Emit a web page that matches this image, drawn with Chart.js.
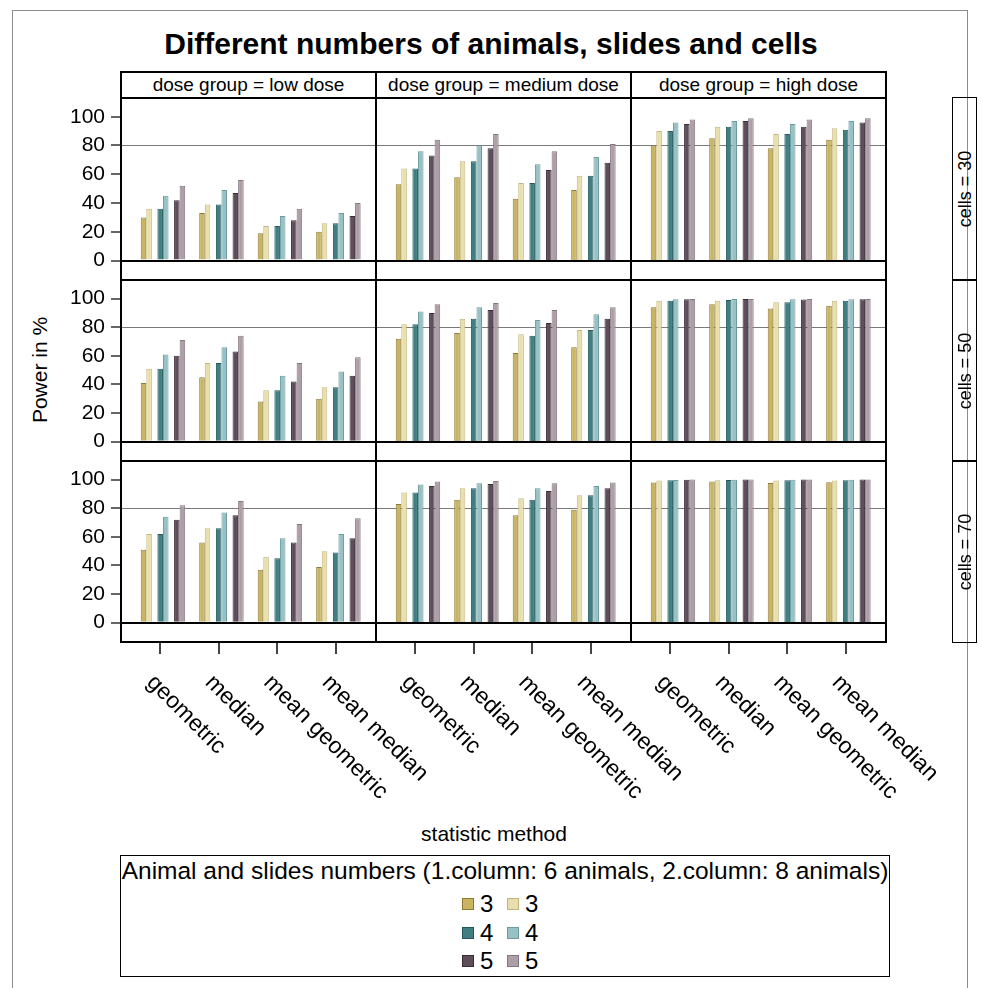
<!DOCTYPE html>
<html>
<head>
<meta charset="utf-8">
<title>Different numbers of animals, slides and cells</title>
<script src="https://cdn.jsdelivr.net/npm/chart.js@4.4.1/dist/chart.umd.min.js"></script>
<style>
  body { margin: 0; background: #fff; font-family: "Liberation Sans", Arial, sans-serif; color: #000; }
  #page { position: relative; width: 982px; height: 988px; overflow: hidden; }
  .abs { position: absolute; }
  canvas { position: absolute; }
  .outer { left: 12px; top: 10px; width: 956px; height: 990px; border: 1px solid #8c8c8c; box-sizing: border-box; }
  .title { left: 0; width: 982px; top: 27px; text-align: center; font-weight: bold; font-size: 30px; }
  .frame { border: 2px solid #000; box-sizing: border-box; z-index: 5; }
  .strip { border: 2px solid #000; box-sizing: border-box; font-size: 19px; display: flex; align-items: center; justify-content: center; background: #fff; }
  .rstrip { border: 1.5px solid #000; box-sizing: border-box; }
  .rstrip span { position: absolute; left: 50%; top: 50%; transform: translate(-50%, -50%) rotate(-90deg); white-space: nowrap; font-size: 18px; }
  .ytitle { left: 40px; top: 370px; transform: translate(-50%, -50%) rotate(-90deg); font-size: 21px; white-space: nowrap; }
  .xtitle { left: 0; width: 988px; top: 822px; text-align: center; font-size: 21px; }
  .legend { left: 120px; top: 855px; width: 770px; height: 122px; border: 1px solid #000; box-sizing: border-box; }
  .legend .lt { position: absolute; left: 0; width: 100%; top: 1px; text-align: center; font-size: 24.5px; white-space: nowrap; }
  .sw { width: 12px; height: 12px; box-sizing: border-box; border: 1px solid #333; }
  .lv { font-size: 24px; line-height: 24px; }
</style>
</head>
<body>
<div id="page">
  <div class="abs outer"></div>
  <div class="abs title">Different numbers of animals, slides and cells</div>
  <div class="abs ytitle">Power in %</div>
  <div class="abs xtitle">statistic method</div>
  <div class="abs legend" id="legend">
    <div class="lt">Animal and slides numbers (1.column: 6 animals, 2.column: 8 animals)</div>
  </div>
</div>
<script>
// panel categories and facets
const methods = ['geometric', 'median', 'mean geometric', 'mean median'];
const doseGroups = ['low dose', 'medium dose', 'high dose'];
const cellCounts = [30, 50, 70];

// series: slides per animal, 6 animals (dark) and 8 animals (light)
const seriesNames = ['3', '3', '4', '4', '5', '5'];
const seriesFill = ['#c9b462', '#e8dfac', '#3f7f82', '#97c1c5', '#5e4d5b', '#ad9ea8'];
const seriesEdge = ['#8e7b31', '#c2b67e', '#24595c', '#6c9ca0', '#3a2c37', '#85757f'];

const yTicks = [0, 20, 40, 60, 80, 100];
const refLine = 80;

// power in %; one row per series (3, 3, 4, 4, 5, 5), one value per method
const cells30Low = [
  [30, 33, 19, 20],
  [36, 39, 24, 26],
  [36, 39, 24, 26],
  [45, 49, 31, 33],
  [42, 47, 28, 31],
  [52, 56, 36, 40]
];
const cells30Medium = [
  [53, 58, 43, 49],
  [64, 69, 54, 59],
  [64, 69, 54, 59],
  [76, 80, 67, 72],
  [73, 78, 63, 68],
  [84, 88, 76, 81]
];
const cells30High = [
  [80, 85, 78, 84],
  [90, 93, 88, 92],
  [90, 93, 88, 91],
  [96, 97, 95, 97],
  [95, 97, 93, 96],
  [98, 99, 98, 99]
];
const cells50Low = [
  [41, 45, 28, 30],
  [51, 55, 36, 38],
  [51, 55, 36, 38],
  [61, 66, 46, 49],
  [60, 63, 42, 46],
  [71, 74, 55, 59]
];
const cells50Medium = [
  [72, 76, 62, 66],
  [82, 86, 75, 78],
  [82, 86, 74, 78],
  [91, 94, 85, 89],
  [90, 92, 83, 86],
  [96, 97, 92, 94]
];
const cells50High = [
  [94, 96, 93, 95],
  [98.5, 98.5, 97.5, 98.5],
  [98.5, 99, 97.5, 98.5],
  [99.5, 99.7, 99.5, 99.5],
  [99.6, 99.8, 99.4, 99.6],
  [99.8, 99.8, 99.7, 99.8]
];
const cells70Low = [
  [51, 56, 37, 39],
  [62, 66, 46, 50],
  [62, 66, 45, 49],
  [74, 77, 59, 62],
  [72, 75, 56, 59],
  [82, 85, 69, 73]
];
const cells70Medium = [
  [83, 86, 75, 79],
  [91, 94, 87, 89],
  [91, 94, 86, 89],
  [96.5, 97.5, 94, 95.6],
  [95.6, 97, 92, 94],
  [98.6, 99, 97.5, 98]
];
const cells70High = [
  [98, 98.6, 97.7, 98.1],
  [99.3, 99.5, 99.3, 99.3],
  [99.5, 99.8, 99.6, 99.6],
  [99.8, 99.9, 99.9, 99.9],
  [99.9, 100, 100, 100],
  [100, 100, 100, 100]
];

const panelData = [
  [cells30Low, cells30Medium, cells30High],
  [cells50Low, cells50Medium, cells50High],
  [cells70Low, cells70Medium, cells70High]
];

// grid geometry
const colLeft = [121, 376, 631];
const colWidth = 255;
const rowTop = [98, 280, 461];
const rowHeight = [182, 181, 181];
const yAxisSpace = 71;    // room for the y tick labels left of the first column
const xAxisSpace = 180;   // room for tick marks and rotated labels under the last row
const xLabelRight = 80;
const FONT = '"Liberation Sans", Arial, sans-serif';

const page = document.getElementById('page');

// horizontal reference lines inside each panel
const refLines = {
  id: 'refLines',
  beforeDatasetsDraw(chart) {
    const { ctx, chartArea: a, scales: { y } } = chart;
    const yy = Math.round(y.getPixelForValue(refLine)) + 0.5;
    ctx.save();
    ctx.strokeStyle = '#7a7a7a';
    ctx.lineWidth = 1;
    ctx.beginPath();
    ctx.moveTo(a.left, yy);
    ctx.lineTo(a.right, yy);
    ctx.stroke();
    ctx.restore();
  },
  afterDatasetsDraw(chart) {
    const { ctx, chartArea: a, scales: { y } } = chart;
    const y0 = Math.round(y.getPixelForValue(0));
    ctx.save();
    ctx.strokeStyle = '#000';
    ctx.lineWidth = 2;
    ctx.beginPath();
    ctx.moveTo(a.left, y0);
    ctx.lineTo(a.right, y0);
    ctx.stroke();
    ctx.restore();
  }
};

// rotated method names under the bottom row
const methodLabels = {
  id: 'methodLabels',
  afterDraw(chart, args, opts) {
    if (!opts.show) return;
    const { ctx, chartArea: a, scales: { x } } = chart;
    ctx.save();
    ctx.font = '23px ' + FONT;
    ctx.fillStyle = '#000';
    ctx.textAlign = 'left';
    ctx.textBaseline = 'middle';
    methods.forEach((m, i) => {
      const px = x.getPixelForValue(i);
      ctx.save();
      ctx.translate(px - 10, a.bottom + 37);
      ctx.rotate(Math.PI / 4);
      ctx.fillText(m, 0, 0);
      ctx.restore();
    });
    ctx.restore();
  }
};

function noPadding(s) {
  s.paddingTop = 0;
  s.paddingBottom = 0;
  s.paddingLeft = 0;
  s.paddingRight = 0;
}

function makeDatasets(rows) {
  const sets = [];
  rows.forEach((vals, s) => {
    // empty slot ahead of each pair of bars
    if (s % 2 === 0) sets.push({ label: '', data: [], backgroundColor: 'rgba(0,0,0,0)' });
    sets.push({
      label: seriesNames[s],
      data: vals.map((v, i) => ({ x: i, y: v })),
      backgroundColor: seriesFill[s],
      borderColor: seriesEdge[s],
      borderWidth: 1,
      borderSkipped: 'start'
    });
  });
  return sets;
}

function drawPanel(r, c) {
  const first = c === 0;
  const last = r === 2;
  const ml = first ? yAxisSpace : 0;
  const mb = last ? xAxisSpace : 0;
  const mr = last ? xLabelRight : 0;
  const w = colWidth + ml + mr;
  const h = rowHeight[r] + mb;

  const canvas = document.createElement('canvas');
  canvas.width = w;
  canvas.height = h;
  canvas.style.left = (colLeft[c] - ml) + 'px';
  canvas.style.top = rowTop[r] + 'px';
  page.appendChild(canvas);

  new Chart(canvas, {
    type: 'bar',
    data: { datasets: makeDatasets(panelData[r][c]) },
    plugins: [refLines, methodLabels],
    options: {
      responsive: false,
      animation: false,
      devicePixelRatio: 1,
      layout: { autoPadding: false, padding: { left: 0, right: mr, top: 0, bottom: 0 } },
      datasets: { bar: { categoryPercentage: 0.855, barPercentage: 1 } },
      plugins: {
        legend: { display: false },
        tooltip: { enabled: false },
        methodLabels: { show: last }
      },
      scales: {
        x: {
          type: 'linear',
          min: -0.67,
          max: 3.69,
          offset: false,
          display: last,
          afterBuildTicks: s => { s.ticks = methods.map((m, i) => ({ value: i })); },
          afterFit: s => { s.height = mb; noPadding(s); },
          ticks: { display: false, includeBounds: false },
          border: { display: false },
          grid: { offset: false, drawOnChartArea: false, drawTicks: true, tickLength: 12, color: '#444', lineWidth: 2 }
        },
        y: {
          min: -13.5,
          max: 113,
          display: first,
          afterBuildTicks: s => { s.ticks = yTicks.map(v => ({ value: v })); },
          afterFit: s => { s.width = ml; noPadding(s); },
          border: { display: false },
          grid: { drawOnChartArea: false, drawTicks: true, tickLength: 10, color: '#666', lineWidth: 2 },
          ticks: { color: '#000', padding: 6, font: { family: FONT, size: 21 } }
        }
      }
    }
  });

  const fr = document.createElement('div');
  fr.className = 'abs frame';
  Object.assign(fr.style, {
    left: (colLeft[c] - 1) + 'px', top: (rowTop[r] - 1) + 'px',
    width: (colWidth + 2) + 'px', height: (rowHeight[r] + 2) + 'px'
  });
  page.appendChild(fr);
}

for (let r = 0; r < 3; r++) {
  for (let c = 0; c < 3; c++) drawPanel(r, c);
}

// column headers
doseGroups.forEach((g, c) => {
  const d = document.createElement('div');
  d.className = 'abs strip';
  Object.assign(d.style, { left: (colLeft[c] - 1) + 'px', top: '71px', width: (colWidth + 2) + 'px', height: '28px' });
  d.textContent = 'dose group = ' + g;
  page.appendChild(d);
});

// row headers on the right
cellCounts.forEach((n, r) => {
  const d = document.createElement('div');
  d.className = 'abs rstrip';
  Object.assign(d.style, { left: '952px', top: (rowTop[r] - 1) + 'px', width: '25px', height: (rowHeight[r] + 2) + 'px' });
  const s = document.createElement('span');
  s.textContent = 'cells = ' + n;
  d.appendChild(s);
  page.appendChild(d);
});

// legend: two columns (6 animals, 8 animals), one row per slide count
const legend = document.getElementById('legend');
const legendRowY = [48, 77, 105];
seriesNames.forEach((name, s) => {
  const row = Math.floor(s / 2);
  const col = s % 2;
  const x0 = 341 + col * 45;
  const sw = document.createElement('div');
  sw.className = 'abs sw';
  Object.assign(sw.style, {
    left: x0 + 'px', top: (legendRowY[row] - 6) + 'px',
    background: seriesFill[s], borderColor: seriesEdge[s]
  });
  legend.appendChild(sw);
  const lv = document.createElement('div');
  lv.className = 'abs lv';
  Object.assign(lv.style, { left: (x0 + 18) + 'px', top: (legendRowY[row] - 12) + 'px' });
  lv.textContent = name;
  legend.appendChild(lv);
});
</script>
</body>
</html>
